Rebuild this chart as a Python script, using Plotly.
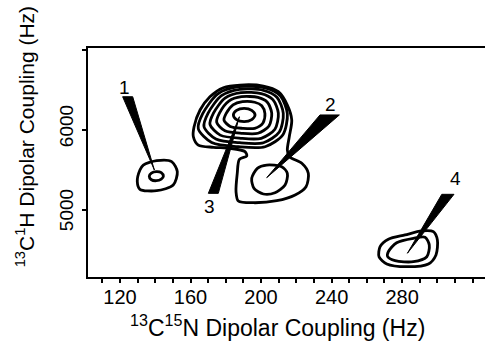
import plotly.graph_objects as go

# ---- data (x: 13C15N coupling, Hz; y: 13C1H coupling, Hz) ----
# peak 1 contours
p1_outer_x = [133.2, 140.8, 149.3, 152.5, 150.2, 140.8, 131.3, 129.8, 131.3]
p1_outer_y = [5562, 5616, 5604, 5479, 5312, 5241, 5259, 5354, 5500]
p1_inner_x = [140.6, 143.4, 144.6, 143.4, 140.6, 137.8, 136.6, 137.8]
p1_inner_y = [5479, 5466, 5422, 5385, 5366, 5378, 5422, 5460]

# peak 3 nested contours (innermost first)
p3_r0_x = [190.4, 194.7, 196.6, 194.7, 190.4, 186.1, 184.3, 186.1]
p3_r0_y = [6271, 6246, 6188, 6129, 6104, 6129, 6188, 6246]
p3_r1_x = [189.45, 196.4, 200.4, 202.2, 201.1, 196.4, 189.45, 182.5, 179.0, 180.15, 184.1]
p3_r1_y = [6354, 6347, 6304, 6204, 6088, 6021, 6021, 6045, 6121, 6204, 6314]
p3_r2_x = [188.9, 198.25, 203.55, 206.05, 204.5, 198.25, 188.9, 179.5, 174.85, 176.4, 181.7]
p3_r2_y = [6416, 6407, 6347, 6210, 6050, 5959, 5959, 5991, 6096, 6210, 6361]
p3_r3_x = [188.5, 200.1, 206.7, 209.8, 207.85, 200.1, 188.5, 176.85, 171.05, 173.0, 179.55]
p3_r3_y = [6466, 6455, 6380, 6210, 6010, 5896, 5896, 5936, 6067, 6210, 6398]
p3_r4_x = [187.85, 201.35, 209.0, 212.6, 210.35, 201.35, 187.85, 174.4, 167.65, 169.9, 177.55]
p3_r4_y = [6509, 6496, 6409, 6208, 5975, 5841, 5841, 5888, 6041, 6208, 6429]
p3_r5_x = [187.1, 202.3, 210.9, 214.9, 212.4, 202.3, 187.1, 172.0, 164.4, 166.9, 175.5]
p3_r5_y = [6541, 6526, 6428, 6204, 5941, 5791, 5791, 5843, 6016, 6204, 6451]
# outermost contour of peak 3, wrapping down around peak 2
p3_outer_x = [188.1, 201.3, 209.8, 214.9, 217.4, 216.0, 214.9, 216.0, 223.1, 226.8, 225.5,
              219.3, 208.9, 195.6, 187.1, 185.8, 186.5, 187.7, 191.9, 190.9, 182.4, 172.9,
              164.4, 161.6, 162.0, 165.4, 171.0, 178.6]
p3_outer_y = [6562, 6550, 6479, 6312, 6125, 5916, 5750, 5666, 5584, 5459, 5291,
              5188, 5116, 5091, 5112, 5229, 5459, 5634, 5675, 5729, 5771, 5784,
              5812, 5916, 6041, 6250, 6416, 6529]

# peak 2 contour
p2_x = [203.2, 211.7, 214.9, 213.6, 207.9, 201.3, 196.0, 194.7, 197.9]
p2_y = [5562, 5541, 5459, 5312, 5216, 5200, 5271, 5396, 5521]

# peak 4 contours
p4_outer_x = [267.5, 272.2, 281.65, 291.1, 297.7, 300.0, 299.2, 294.9, 282.6, 271.3, 266.9]
p4_outer_y = [4541, 4634, 4688, 4738, 4729, 4625, 4438, 4325, 4291, 4325, 4416]
p4_inner_x = [272.2, 276.9, 286.4, 293.0, 295.4, 294.0, 286.4, 276.0, 271.8]
p4_inner_y = [4479, 4591, 4646, 4659, 4562, 4416, 4354, 4366, 4416]

# wedge pointers: two base corners + tip
wedge_x = [[121.5, 127.2, 139.5], [233.4, 244.4, 203.2], [170.1, 175.75, 187.7], [302.5, 309.4, 283.0]]
wedge_y = [[6416, 6416, 5500], [6188, 6188, 5404], [5208, 5208, 6166], [5196, 5196, 4459]]

# peak labels
label_text = ["1", "2", "3", "4"]
label_x = [122.8, 239.1, 171.0, 310.0]
label_y = [6534, 6325, 5050, 5388]

# axis ticks
x_tickvals = list(range(110, 330, 10))
x_labelled = [120, 160, 200, 240, 280]
x_ticktext = [str(v) if v in x_labelled else "" for v in x_tickvals]
y_tickvals = [5000, 6000, 7000]
y_labelled = [5000, 6000]

FONT = "Liberation Sans, Arial, Helvetica, sans-serif"

fig = go.Figure()

contours = [
    (p1_outer_x, p1_outer_y), (p1_inner_x, p1_inner_y),
    (p3_r0_x, p3_r0_y), (p3_r1_x, p3_r1_y), (p3_r2_x, p3_r2_y),
    (p3_r3_x, p3_r3_y), (p3_r4_x, p3_r4_y), (p3_r5_x, p3_r5_y),
    (p3_outer_x, p3_outer_y), (p2_x, p2_y),
    (p4_outer_x, p4_outer_y), (p4_inner_x, p4_inner_y),
]
for cx, cy in contours:
    fig.add_trace(go.Scatter(
        x=list(cx) + [cx[0]], y=list(cy) + [cy[0]], mode="lines",
        line=dict(color="black", width=2.8, shape="spline", smoothing=0.8),
        hoverinfo="skip", showlegend=False))

for wx, wy in zip(wedge_x, wedge_y):
    fig.add_trace(go.Scatter(
        x=list(wx) + [wx[0]], y=list(wy) + [wy[0]], mode="lines",
        fill="toself", fillcolor="black", line=dict(color="black", width=1),
        hoverinfo="skip", showlegend=False))

for t, lx, ly in zip(label_text, label_x, label_y):
    fig.add_annotation(x=lx, y=ly, text=t, showarrow=False,
                       font=dict(family=FONT, size=19, color="black"),
                       xanchor="center", yanchor="middle")

# rotated y tick labels
for v in y_labelled:
    fig.add_annotation(xref="paper", yref="y", x=-0.055, y=v, text=str(v),
                       showarrow=False, textangle=-90, xanchor="center",
                       yanchor="middle", yshift=4 if v == 6000 else 0,
                       font=dict(family=FONT, size=19, color="black"))

fig.add_annotation(xref="paper", yref="paper", x=0.477, y=-0.212,
                   text="<sup>13</sup>C<sup>15</sup>N Dipolar Coupling (Hz)",
                   showarrow=False, xanchor="center", yanchor="middle",
                   font=dict(family=FONT, size=23, color="black"))
fig.add_annotation(xref="paper", yref="paper", x=-0.158, y=0.611,
                   text="<sup>13</sup>C<sup>1</sup>H Dipolar Coupling (Hz)",
                   showarrow=False, xanchor="center", yanchor="middle", textangle=-90,
                   font=dict(family=FONT, size=21, color="black"))

fig.update_layout(
    width=485, height=342,
    margin=dict(l=88, r=0, t=48, b=65),
    paper_bgcolor="white", plot_bgcolor="white",
    font=dict(family=FONT, color="black"),
    xaxis=dict(range=[101.85, 327.0], tickmode="array", tickvals=x_tickvals,
               ticktext=x_ticktext, ticks="outside", ticklen=4, tickwidth=1.5,
               tickcolor="black", showline=True, linecolor="black", linewidth=2,
               mirror=True, showgrid=False, zeroline=False, ticklabelstandoff=-3,
               tickfont=dict(family=FONT, size=20, color="black")),
    yaxis=dict(range=[4162.5, 7025], tickmode="array", tickvals=y_tickvals,
               showticklabels=False, ticks="outside", ticklen=4, tickwidth=1.5,
               tickcolor="black", showline=True, linecolor="black", linewidth=2,
               mirror=False, showgrid=False, zeroline=False),
)

fig.write_html("out.html")
